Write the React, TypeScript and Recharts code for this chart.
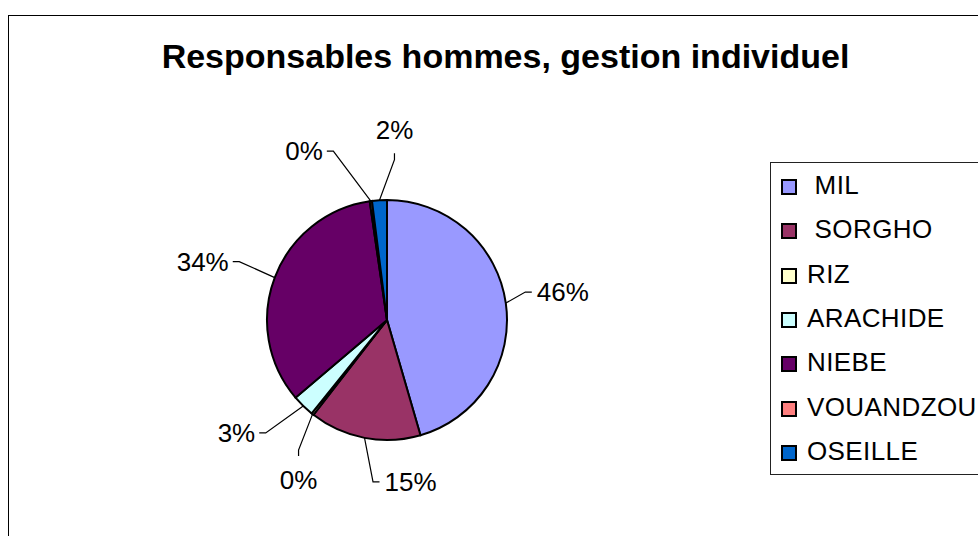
import { PieChart, Pie, Cell, Legend } from "recharts";

const CROPS = [" MIL", " SORGHO", "RIZ", "ARACHIDE", "NIEBE", "VOUANDZOU", "OSEILLE"];
const SHARES = [45.5, 15.0, 0.3, 3.0, 33.9, 0.3, 2.0];
const COLORS = ["#9999FF", "#993366", "#FFFFCC", "#CCFFFF", "#660066", "#FF8080", "#0066CC"];

// where each data label sits: offset of the leader end from the slice edge, and side of the text
const LABEL_LAYOUT: [number, number, string][] = [
  [26, -11, "right"],
  [15, 44, "right"],
  [-14, 42, "down"],
  [-44, 27, "left"],
  [-42, -16, "left"],
  [-44, -50, "left"],
  [15, -47, "up"],
];

const FONT = "'Liberation Sans', Arial, sans-serif";
const RAD = Math.PI / 180;

const data = CROPS.map((name, i) => ({ name, value: SHARES[i] }));

function renderLabel(props: any) {
  const { cx, cy, midAngle, outerRadius, index, value } = props;
  const ex = cx + outerRadius * Math.cos(-midAngle * RAD);
  const ey = cy + outerRadius * Math.sin(-midAngle * RAD);
  const [dx, dy, side] = LABEL_LAYOUT[index];
  const ax = ex + dx;
  const ay = ey + dy;
  let bx = ax, by = ay, tx = ax, ty = ay + 9, anchor = "middle";
  if (side === "right") { bx = ax - 6.5; tx = ax + 5; anchor = "start"; }
  if (side === "left") { bx = ax + 6.5; tx = ax - 4; anchor = "end"; }
  if (side === "down") { by = ay - 6; ty = ay + 33; }
  if (side === "up") { by = ay + 6.5; ty = ay - 14; }
  return (
    <g key={`lbl-${index}`}>
      <polyline points={`${ex},${ey} ${bx},${by} ${ax},${ay}`} fill="none" stroke="#000" strokeWidth={1.2} />
      <text x={tx} y={ty} textAnchor={anchor} fontSize={26} fontFamily={FONT} fill="#000">
        {`${Math.round(value)}%`}
      </text>
    </g>
  );
}

function LegendBox() {
  return (
    <div style={{ position: "relative", width: 260, height: 313, border: "1.5px solid #222", boxSizing: "border-box", fontFamily: FONT }}>
      {CROPS.map((name, i) => (
        <div key={name}>
          <div style={{
            position: "absolute", left: 10, top: 16 + i * 44.3, width: 16, height: 16,
            background: COLORS[i], border: "2px solid #000", boxSizing: "border-box",
          }} />
          <div style={{
            position: "absolute", left: 36, top: 9 + i * 44.3, fontSize: 26, lineHeight: "26px",
            whiteSpace: "pre", color: "#000", letterSpacing: 0.4,
          }}>{name}</div>
        </div>
      ))}
    </div>
  );
}

export default function App() {
  return (
    <div style={{ position: "relative", width: 978, height: 536, overflow: "hidden", background: "#fff" }}>
      <style>{"body{margin:0;overflow:hidden}"}</style>
      <div style={{
        position: "absolute", left: 8, top: 15, width: 1100, height: 700,
        border: "1.5px solid #000", boxSizing: "border-box",
      }} />
      <div style={{
        position: "absolute", left: 0, top: 39, width: 1011, textAlign: "center",
        fontFamily: FONT, fontWeight: "bold", fontSize: 34, lineHeight: "34px", color: "#000",
      }}>
        Responsables hommes, gestion individuel
      </div>
      <div style={{ position: "absolute", left: 0, top: 0 }}>
        <PieChart width={978} height={536} margin={{ top: 0, right: 0, bottom: 0, left: 0 }}>
          <Pie
            data={data}
            dataKey="value"
            nameKey="name"
            cx={387}
            cy={320}
            outerRadius={120}
            startAngle={90}
            endAngle={-270}
            stroke="#000"
            strokeWidth={2}
            label={renderLabel}
            labelLine={false}
            isAnimationActive={false}
          >
            {data.map((_, i) => (
              <Cell key={i} fill={COLORS[i]} />
            ))}
          </Pie>
          <Legend
            content={() => <LegendBox />}
            wrapperStyle={{ position: "absolute", left: 770, top: 162, width: 260, height: 313 }}
          />
        </PieChart>
      </div>
    </div>
  );
}
